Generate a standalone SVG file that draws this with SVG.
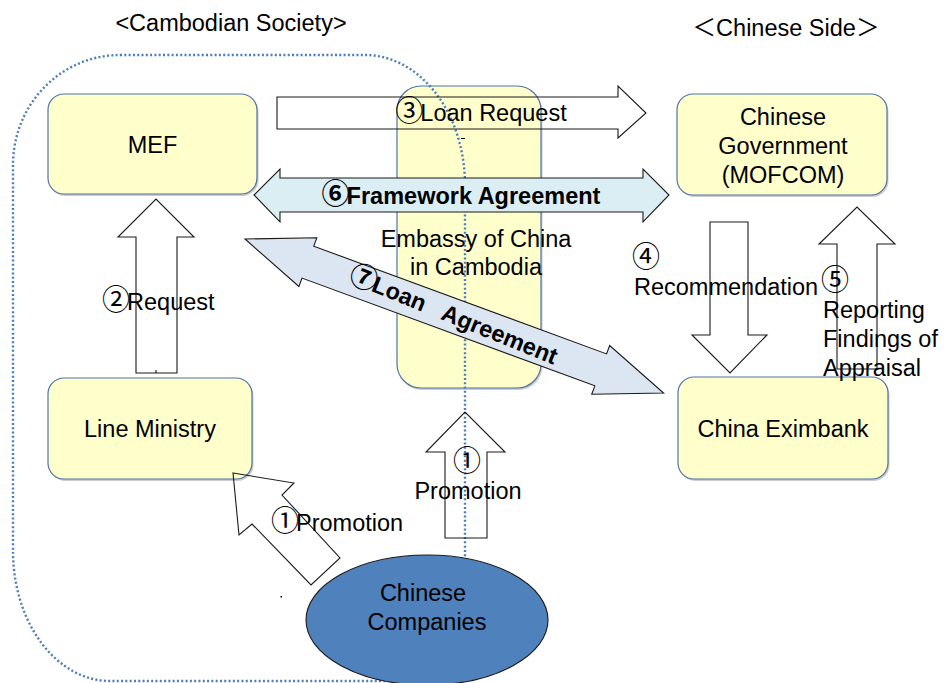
<svg xmlns="http://www.w3.org/2000/svg" width="945" height="683" viewBox="0 0 945 683">
<style>
  text { font-family: "Liberation Sans", "Noto Sans CJK JP", sans-serif; font-size: 23.5px; fill: #000; }
  .c { text-anchor: middle; }
  .b { font-weight: bold; }
  .n { font-size: 28px; }
  .node { fill: #FFFFCC; stroke: #4F74A8; stroke-width: 1.2; }
  .shadow { fill: #8F8F8F; opacity: 0.45; }
  .arrow { fill: none; stroke: #1A1A1A; stroke-width: 1.1; stroke-linejoin: miter; }
  .boundary { fill: none; stroke: #4A7EBB; stroke-width: 2.4; stroke-dasharray: 2 2.3; }
</style>
<rect width="945" height="683" fill="#FFFFFF"/>

<!-- section titles -->
<text class="c" x="231" y="31">&lt;Cambodian Society&gt;</text>
<text class="c" x="786" y="36">＜Chinese Side＞</text>

<!-- Embassy (under the boundary line) -->
<g id="embassy">
  <rect class="shadow" x="398.5" y="88" width="144" height="302" rx="24"/>
  <rect class="node" x="397" y="86" width="144" height="302" rx="24"/>
  <text class="c" x="476" y="247">Embassy of China</text>
  <text class="c" x="476" y="275">in Cambodia</text>
</g>

<!-- Cambodian society boundary -->
<g id="cambodian-society-boundary">
  <path class="boundary" d="M 120,55 L 365,55 A 100 130 0 0 1 465,185 L 465,681 L 110,681 A 97 130 0 0 1 13,551 L 13,165 A 107 110 0 0 1 120,55 Z"/>
</g>

<g id="mef">
  <rect class="shadow" x="49.5" y="96" width="209" height="100" rx="16"/>
  <rect class="node" x="48" y="94" width="209" height="100" rx="16"/>
  <text class="c" x="152.5" y="153">MEF</text>
</g>

<g id="chinese-government">
  <rect class="shadow" x="678.5" y="96" width="210" height="101" rx="16"/>
  <rect class="node" x="677" y="94" width="210" height="101" rx="16"/>
  <text class="c" x="783" y="125">Chinese</text>
  <text class="c" x="783" y="154">Government</text>
  <text class="c" x="783" y="183">(MOFCOM)</text>
</g>

<g id="line-ministry">
  <rect class="shadow" x="49.5" y="380" width="204" height="101" rx="16"/>
  <rect class="node" x="48" y="378" width="204" height="101" rx="16"/>
  <text class="c" x="150" y="437">Line Ministry</text>
</g>

<g id="china-eximbank">
  <rect class="shadow" x="679.5" y="379" width="210" height="102" rx="16"/>
  <rect class="node" x="678" y="377" width="210" height="102" rx="16"/>
  <text class="c" x="783" y="437">China Eximbank</text>
</g>

<g id="connectors">
  <!-- 3 Loan Request -->
  <polygon class="arrow" points="277,97 618,97 618,86 646,113 618,138 618,129 277,129"/>
  <!-- 2 Request -->
  <polygon class="arrow" points="136,373 136,237 118,237 156,199 194,237 177,237 177,373"/>
  <!-- 4 Recommendation -->
  <polygon class="arrow" points="710,222 748,222 748,335 767,335 730,373 692,335 710,335"/>
  <!-- 5 Reporting -->
  <polygon class="arrow" points="837,369 837,244 819,244 857,207 895,244 877,244 877,369"/>
  <!-- 1 Promotion vertical -->
  <polygon class="arrow" points="445,538 445,452 426,452 465,412 505,452 487,452 487,538"/>
  <!-- 1 Promotion diagonal -->
  <polygon class="arrow" points="233,473 294,483 282,495 340,558 311,585 252,524 239,535"/>
  <!-- 6 Framework Agreement -->
  <polygon fill="#DAEEF3" stroke="#1A1A1A" stroke-width="1.1" points="254,195 280,169 280,178 643,178 643,169 669,195 643,222 643,212 280,212 280,222"/>
  <!-- 7 Loan Agreement -->
  <g transform="translate(245,239) rotate(20.2)">
    <polygon fill="#DCE6F2" stroke="#1A1A1A" stroke-width="1.1" points="0,0 67,-26 67,-17 379,-17 379,-26 446,0 379,26 379,17 67,17 67,26"/>
    <text class="c b" x="222" y="8" transform="rotate(1.8 222 0)" xml:space="preserve"><tspan class="n">⑦</tspan><tspan dx="-3">Loan   Agreement</tspan></text>
  </g>
  <!-- small artifacts -->
  <line x1="461" y1="138.5" x2="465" y2="138.5" stroke="#000" stroke-width="1"/>
  <rect x="280.5" y="596" width="1.5" height="1.5" fill="#000"/>
  <line x1="156" y1="370" x2="156" y2="373" stroke="#000" stroke-width="1"/>
</g>

<!-- connector labels -->
<g id="labels">
  <text class="c" x="481" y="121"><tspan class="n">③</tspan><tspan dx="-3">Loan Request</tspan></text>
  <text class="c b" x="461" y="204"><tspan class="n">⑥</tspan><tspan dx="-3">Framework Agreement</tspan></text>
  <text x="102" y="310"><tspan class="n">②</tspan><tspan dx="-3">Request</tspan></text>
  <text x="632" y="267"><tspan class="n">④</tspan></text>
  <text x="634" y="295">Recommendation</text>
  <text x="821" y="290"><tspan class="n">⑤</tspan></text>
  <text x="823" y="318">Reporting</text>
  <text x="823" y="347">Findings of</text>
  <text x="823" y="376">Appraisal</text>
  <text class="c" x="467" y="471"><tspan class="n">①</tspan></text>
  <text class="c" x="468" y="499">Promotion</text>
  <text x="271" y="531"><tspan class="n">①</tspan><tspan dx="-3">Promotion</tspan></text>
</g>

<g id="chinese-companies">
  <ellipse cx="427" cy="620" rx="121" ry="65" fill="#4F81BD" stroke="#1A1A1A" stroke-width="1.1"/>
  <text class="c" x="423" y="601">Chinese</text>
  <text class="c" x="427" y="630">Companies</text>
</g>
</svg>
